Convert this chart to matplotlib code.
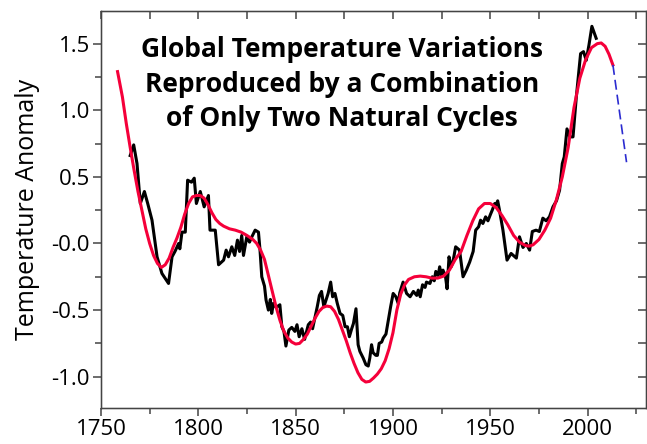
import matplotlib
matplotlib.use("Agg")
import matplotlib.pyplot as plt
from matplotlib.ticker import MultipleLocator, FixedLocator, FixedFormatter

# observed temperature record (black)
obs_years = [1765.0, 1766.8, 1768.5, 1770.2, 1772.3, 1774.0, 1776.2, 1778.8, 1781.3, 1784.7,
             1786.5, 1788.0, 1789.9, 1790.5, 1791.6, 1793.3, 1794.5, 1796.5, 1797.9, 1799.0,
             1801.0, 1803.0, 1805.2, 1806.0, 1808.7, 1810.4, 1813.0, 1814.3, 1815.5, 1817.2,
             1818.7, 1820.1, 1821.2, 1822.3, 1823.2, 1824.9, 1826.3, 1827.5, 1829.2, 1830.9,
             1831.7, 1832.6, 1834.0, 1834.8, 1836.0, 1837.0, 1837.7, 1838.6, 1840.0, 1841.9,
             1842.9, 1844.0, 1845.0, 1846.5, 1848.0, 1849.6, 1850.7, 1851.8, 1853.2, 1854.6,
             1856.5, 1857.7, 1858.7, 1860.0, 1861.1, 1862.2, 1863.3, 1864.5, 1865.9, 1866.7,
             1868.0, 1869.0, 1870.2, 1871.4, 1872.8, 1874.2, 1875.4, 1876.6, 1877.6, 1878.8,
             1879.7, 1881.0, 1882.1, 1883.0, 1884.7, 1886.1, 1887.3, 1888.1, 1889.0, 1889.8,
             1891.2, 1892.0, 1892.9, 1894.2, 1895.0, 1896.4, 1897.6, 1898.8, 1900.1, 1901.5,
             1902.7, 1903.5, 1905.2, 1907.0, 1908.8, 1910.5, 1912.2, 1913.0, 1914.0, 1915.2,
             1916.5, 1917.2, 1919.0, 1920.2, 1921.2, 1922.0, 1923.2, 1924.0, 1924.9, 1925.7,
             1927.0, 1927.8, 1928.8, 1929.9, 1930.8, 1932.2, 1934.2, 1936.0, 1937.7, 1939.4,
             1941.2, 1942.5, 1944.0, 1945.0, 1946.2, 1947.6, 1948.8, 1950.0, 1951.0, 1952.3,
             1953.0, 1953.8, 1954.6, 1956.5, 1958.6, 1960.7, 1963.4, 1965.0, 1966.8, 1968.5,
             1970.2, 1971.6, 1973.5, 1975.2, 1977.0, 1978.7, 1980.4, 1982.2, 1984.0, 1985.6,
             1987.0, 1988.0, 1989.4, 1990.8, 1992.5, 1994.2, 1996.4, 1997.9, 1999.3, 2000.7,
             2002.2, 2004.4]
obs_temp = [0.66, 0.74, 0.60, 0.30, 0.39, 0.30, 0.175, -0.10, -0.225, -0.30,
            -0.10, -0.06, 0.0, -0.04, 0.085, 0.085, 0.475, 0.46, 0.49, 0.30,
            0.39, 0.275, 0.36, 0.10, 0.10, -0.16, -0.125, -0.05, -0.10, -0.025,
            -0.09, 0.025, -0.06, 0.06, -0.09, 0.05, 0.01, 0.05, 0.10, 0.085,
            -0.05, -0.25, -0.32, -0.425, -0.50, -0.42, -0.525, -0.45, -0.48, -0.46,
            -0.625, -0.66, -0.77, -0.65, -0.63, -0.66, -0.61, -0.70, -0.64, -0.72,
            -0.61, -0.59, -0.64, -0.55, -0.475, -0.39, -0.36, -0.475, -0.41, -0.375,
            -0.29, -0.40, -0.375, -0.45, -0.525, -0.54, -0.625, -0.625, -0.70, -0.64,
            -0.60, -0.49, -0.76, -0.81, -0.86, -0.91, -0.92, -0.86, -0.76, -0.82,
            -0.84, -0.84, -0.75, -0.74, -0.71, -0.68, -0.575, -0.475, -0.375, -0.40,
            -0.45, -0.37, -0.29, -0.375, -0.40, -0.36, -0.39, -0.35, -0.40, -0.31,
            -0.33, -0.29, -0.30, -0.25, -0.28, -0.21, -0.24, -0.175, -0.24, -0.20,
            -0.25, -0.34, -0.10, -0.175, -0.14, -0.025, -0.05, -0.25, -0.20, -0.14,
            -0.06, 0.10, 0.125, 0.175, 0.15, 0.20, 0.17, 0.215, 0.25, 0.30,
            0.29, 0.32, 0.26, 0.10, -0.125, -0.075, -0.11, 0.05, -0.03, 0.0,
            -0.05, 0.09, 0.10, 0.09, 0.19, 0.17, 0.20, 0.275, 0.32, 0.40,
            0.60, 0.65, 0.86, 0.80, 0.80, 1.10, 1.425, 1.44, 1.375, 1.49,
            1.63, 1.54]

# two-cycle model (red)
model_years = [1758.5, 1761, 1763, 1765, 1767, 1769, 1771, 1773, 1775, 1777, 1779, 1781, 1783,
               1785, 1787, 1789, 1791, 1793, 1795, 1797, 1799, 1801, 1803, 1805, 1807, 1809,
               1811, 1813, 1816, 1819, 1822, 1825, 1828, 1830, 1832, 1834, 1836, 1838, 1840,
               1842, 1844, 1846, 1848, 1850, 1852, 1854, 1856, 1858, 1860, 1862, 1864, 1866,
               1868, 1870, 1872, 1874, 1876, 1878, 1880, 1882, 1884, 1886, 1888, 1890, 1892,
               1894, 1896, 1898, 1900, 1902, 1904, 1906, 1908, 1911, 1914, 1917, 1920, 1923,
               1926, 1929, 1932, 1935, 1938, 1941, 1944, 1947, 1950, 1953, 1956, 1959, 1962,
               1965, 1968, 1970, 1972, 1975, 1978, 1981, 1984, 1987, 1990, 1993, 1996, 1999,
               2002, 2005, 2007, 2009, 2011, 2013]
model_temp = [1.29, 1.10, 0.90, 0.72, 0.55, 0.39, 0.25, 0.11, 0.0, -0.09, -0.15, -0.18, -0.16,
              -0.11, -0.03, 0.04, 0.12, 0.22, 0.30, 0.35, 0.36, 0.36, 0.34, 0.29, 0.23, 0.18,
              0.15, 0.13, 0.11, 0.10, 0.085, 0.06, 0.03, 0.0, -0.05, -0.12, -0.24, -0.36, -0.48,
              -0.58, -0.66, -0.71, -0.74, -0.755, -0.75, -0.72, -0.68, -0.62, -0.56, -0.51, -0.48, -0.47,
              -0.475, -0.51, -0.57, -0.65, -0.73, -0.82, -0.90, -0.97, -1.02, -1.04, -1.035, -1.01, -0.98,
              -0.94, -0.88, -0.79, -0.67, -0.50, -0.38, -0.31, -0.27, -0.25, -0.245, -0.25, -0.26, -0.26,
              -0.245, -0.20, -0.12, -0.06, 0.06, 0.17, 0.26, 0.30, 0.30, 0.27, 0.21, 0.14, 0.06,
              0.01, -0.015, -0.02, -0.01, 0.03, 0.10, 0.19, 0.33, 0.50, 0.72, 1.02, 1.24, 1.38,
              1.47, 1.50, 1.505, 1.48, 1.42, 1.34]

# projection (blue dashed)
proj_years = [2013, 2020]
proj_temp = [1.34, 0.61]

ytick_vals = [-1.0, -0.5, 0.0, 0.5, 1.0, 1.5]
ytick_labels = ["-1.0", "-0.5", "-0.0", "0.5", "1.0", "1.5"]

title = "Global Temperature Variations\nReproduced by a Combination\nof Only Two Natural Cycles"

plt.rcParams['font.family'] = ['Open Sans', 'DejaVu Sans']

fig = plt.figure(figsize=(6.47, 4.44), dpi=100)
ax = fig.add_axes([101 / 647, 1 - 408 / 444, 545 / 647, 397 / 444])

ax.plot(obs_years, obs_temp, color="black", lw=2.2)
ax.plot(model_years, model_temp, color="#f5003a", lw=2.2)
ax.plot(proj_years, proj_temp, color="#2b2bd0", lw=1.2, dashes=(6, 3))

xlim = (1750, 2030)
ylim = (-1.235, 1.745)
ax.set_xlim(xlim)
ax.set_ylim(ylim)

ax.xaxis.set_major_locator(MultipleLocator(50))
ax.xaxis.set_minor_locator(MultipleLocator(25))
ax.yaxis.set_major_locator(FixedLocator(ytick_vals))
ax.yaxis.set_major_formatter(FixedFormatter(ytick_labels))
ax.yaxis.set_minor_locator(MultipleLocator(0.25))

tick_col = "#444444"
for s in ax.spines.values():
    s.set_color(tick_col)
    s.set_linewidth(1.0)

ax.tick_params(which="both", direction="out", color=tick_col, width=1.1,
               labelsize=16, pad=2)
ax.tick_params(which="major", length=6)
ax.tick_params(which="minor", length=4)

# top / right: inward ticks, no labels
axt = ax.twiny()
axt.set_xlim(xlim)
axt.xaxis.set_major_locator(MultipleLocator(50))
axt.xaxis.set_minor_locator(MultipleLocator(25))
axt.tick_params(axis="x", which="both", direction="in", labeltop=False,
                color=tick_col, width=1.1, length=6)

axr = ax.twinx()
axr.set_ylim(ylim)
axr.yaxis.set_major_locator(FixedLocator(ytick_vals))
axr.yaxis.set_minor_locator(MultipleLocator(0.25))
axr.tick_params(axis="y", which="both", direction="in", labelright=False,
                color=tick_col, width=1.1, length=6)

for a in (axt, axr):
    for s in a.spines.values():
        s.set_color(tick_col)

ax.set_ylabel("Temperature Anomaly", fontsize=18, labelpad=8)

fig.text(342 / 647, 1 - 84 / 444, title, ha="center", va="center",
         fontsize=19, fontweight="bold", linespacing=1.38)

fig.savefig("out.png", dpi=100)
